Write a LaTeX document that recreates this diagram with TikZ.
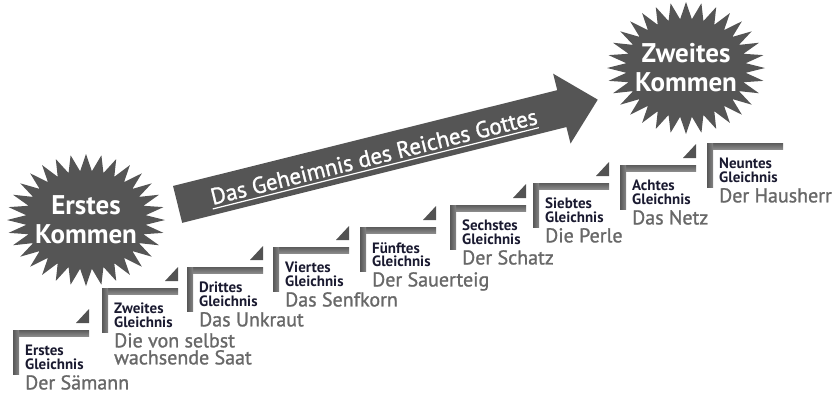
\documentclass[tikz,border=0pt]{standalone}
\usepackage{fontspec}
\setmainfont{PT Sans}
\newfontfamily\titlefont{PT Sans}[FakeBold=1.2]
\usepackage{tikz}
\usetikzlibrary{positioning}

\definecolor{stargray}{RGB}{85,85,85}
\definecolor{navy}{RGB}{26,26,48}
\definecolor{titlegray}{RGB}{104,104,104}

\begin{document}
\begin{tikzpicture}[
    % GLOBAL CFG: one unit is one pixel of the reference, y runs down
    x=1pt, y=-1pt,
    % Styles
    starburst/.style={% For the two comings
        fill=stargray,
        },
    startext/.style={% White text in the stars
        text=white,
        align=center,
        inner sep=0pt,
        font=\bfseries\fontsize{27}{29}\selectfont,
        },
    hbar/.style={% Top of every step
        top color=black!64,
        bottom color=black!46,
        },
    vbar/.style={% Side of every step
        left color=black!66,
        right color=black!48,
        },
    stepcorner/.style={% Small wedge at the end of a step
        fill=black!68,
        },
    parable/.style={% "Erstes Gleichnis" and so on
        anchor=north west,
        inner sep=0pt,
        align=left,
        text=navy,
        font=\bfseries\fontsize{15}{13.5}\selectfont,
        },
    ptitle/.style={% Name of the parable
        anchor=north west,
        inner sep=0pt,
        align=left,
        text=titlegray,
        font=\titlefont\fontsize{20}{17}\selectfont,
        },
    ]

\useasboundingbox (0,0) rectangle (836,394);

    % Draw the two stars
    \fill[starburst, shift={(86,220)}] (0:79 and 66)
        \foreach \a in {0,11.25,...,348.75} { -- (\a:79 and 66) -- (\a+5.625:60 and 49) } -- cycle;
    \fill[starburst, shift={(686,68)}] (0:79 and 66)
        \foreach \a in {0,11.25,...,348.75} { -- (\a:79 and 66) -- (\a+5.625:60 and 49) } -- cycle;
    \node[startext] (erstes) at (86,220) {Erstes\\Kommen};
    \node[startext] (zweites) at (686,68) {Zweites\\Kommen};

    % Draw the big arrow
    \begin{scope}[shift={(177.6,204.4)}, rotate=14]
        \fill[stargray] (0,-19) -- (396,-19) -- (396,-36) -- (433,0) -- (396,36) -- (396,19) -- (0,19) -- cycle;
        \node[rotate=14, text=white, inner sep=0pt, font=\titlefont\fontsize{23}{25}\selectfont] (geheimnis) at (202,1) {Das Geheimnis des Reiches Gottes};
    \end{scope}
    \draw[white, line width=1.2pt] ([yshift=-4pt]geheimnis.base west) -- ([yshift=-4pt]geheimnis.base east);

    % Draw the steps: top, side and wedge
    \fill[hbar] (13,330) rectangle ++(76,6);  \fill[vbar] (13,330) rectangle ++(6,44);  \fill[stepcorner] (89,323) -- ++(0,-14) -- ++(-13,14) -- cycle;
    \fill[hbar] (102,288) rectangle ++(76,6); \fill[vbar] (102,288) rectangle ++(6,44); \fill[stepcorner] (178,281) -- ++(0,-14) -- ++(-13,14) -- cycle;
    \fill[hbar] (187,267) rectangle ++(76,6); \fill[vbar] (187,267) rectangle ++(6,44); \fill[stepcorner] (263,260) -- ++(0,-14) -- ++(-13,14) -- cycle;
    \fill[hbar] (273,247) rectangle ++(76,6); \fill[vbar] (273,247) rectangle ++(6,44); \fill[stepcorner] (349,240) -- ++(0,-14) -- ++(-13,14) -- cycle;
    \fill[hbar] (360,227) rectangle ++(76,6); \fill[vbar] (360,227) rectangle ++(6,44); \fill[stepcorner] (436,220) -- ++(0,-14) -- ++(-13,14) -- cycle;
    \fill[hbar] (450,205) rectangle ++(76,6); \fill[vbar] (450,205) rectangle ++(6,44); \fill[stepcorner] (526,198) -- ++(0,-14) -- ++(-13,14) -- cycle;
    \fill[hbar] (533,183) rectangle ++(76,6); \fill[vbar] (533,183) rectangle ++(6,44); \fill[stepcorner] (609,176) -- ++(0,-14) -- ++(-13,14) -- cycle;
    \fill[hbar] (620,165) rectangle ++(76,6); \fill[vbar] (620,165) rectangle ++(6,44); \fill[stepcorner] (696,158) -- ++(0,-14) -- ++(-13,14) -- cycle;
    \fill[hbar] (707,143) rectangle ++(76,6); \fill[vbar] (707,143) rectangle ++(6,44);

    % Draw the parables named g# and their names t#
    \node[parable] (g1) at (25,345) {Erstes\\Gleichnis};
    \node[ptitle] (t1) at (25,375) {Der Sämann};
    \node[parable] (g2) at (114,303) {Zweites\\Gleichnis};
    \node[ptitle] (t2) at (114,333) {Die von selbst\\wachsende Saat};
    \node[parable] (g3) at (199,282) {Drittes\\Gleichnis};
    \node[ptitle] (t3) at (199,312) {Das Unkraut};
    \node[parable] (g4) at (285,262) {Viertes\\Gleichnis};
    \node[ptitle] (t4) at (285,292) {Das Senfkorn};
    \node[parable] (g5) at (372,242) {Fünftes\\Gleichnis};
    \node[ptitle] (t5) at (372,272) {Der Sauerteig};
    \node[parable] (g6) at (462,220) {Sechstes\\Gleichnis};
    \node[ptitle] (t6) at (462,250) {Der Schatz};
    \node[parable] (g7) at (545,198) {Siebtes\\Gleichnis};
    \node[ptitle] (t7) at (545,228) {Die Perle};
    \node[parable] (g8) at (632,180) {Achtes\\Gleichnis};
    \node[ptitle] (t8) at (632,210) {Das Netz};
    \node[parable] (g9) at (719,158) {Neuntes\\Gleichnis};
    \node[ptitle] (t9) at (719,188) {Der Hausherr};

\end{tikzpicture}
\end{document}
